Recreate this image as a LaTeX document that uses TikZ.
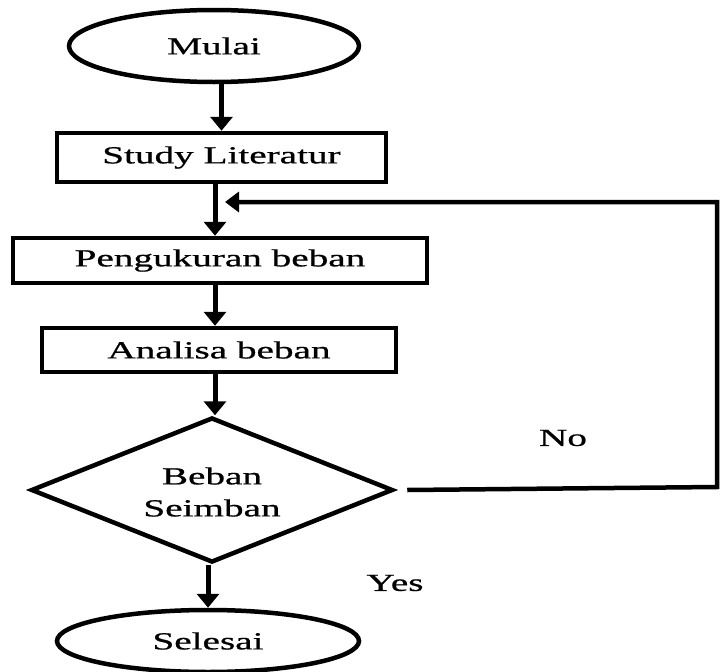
\documentclass[tikz,border=0pt]{standalone}
\usepackage{fontspec}
\setmainfont[FakeStretch=1.6,FakeBold=0.8]{Liberation Serif}
\usetikzlibrary{shapes.geometric,arrows.meta}
\begin{document}
\begin{tikzpicture}[x=1pt,y=-1pt,
  every node/.style={font=\fontsize{24.5}{32}\selectfont},
  termbox/.style={draw,ellipse,line width=4.5pt,inner sep=0pt},
  procbox/.style={draw,rectangle,line width=4.5pt,inner sep=0pt},
  decbox/.style={draw,diamond,line width=4.5pt,inner sep=0pt},
  arr/.style={line width=5pt,-{Triangle[width=22pt,length=14pt]}},
  fb/.style={line width=4.5pt,-{Triangle[width=20pt,length=14pt]}},
  lbl/.style={inner sep=0pt}]
\useasboundingbox (0,0) rectangle (721,672);
\node[termbox,minimum width=290pt,minimum height=72pt] (start) at (214,46) {Mulai};
\node[procbox,minimum width=329pt,minimum height=49pt] (s1) at (221.5,157.5) {Study Literatur};
\node[procbox,minimum width=414pt,minimum height=45pt] (s2) at (220,260.5) {Pengukuran beban};
\node[procbox,minimum width=354pt,minimum height=44pt] (s3) at (219,350) {Analisa beban};
\node[decbox,minimum width=362pt,minimum height=145pt] (dec) at (212,490) {};
\node[lbl,align=center] (dectext) at (212,492) {Beban\\Seimban};
\node[termbox,minimum width=302pt,minimum height=62pt] (end) at (208,641) {Selesai};
\node[lbl] (no) at (563,438) {No};
\node[lbl] (yes) at (395,583) {Yes};
\coordinate (trunk) at (215,0);
\coordinate (fbR) at (717,487);
\coordinate (fbT) at (717,202);
\coordinate (fbtip) at (225,202);
\draw[arr] (s1.north |- start.south) -- (s1.north);
\draw[arr] (s1.south -| trunk) -- (s2.north -| trunk);
\draw[arr] (s2.south -| trunk) -- (s3.north -| trunk);
\draw[arr] (s3.south -| trunk) -- (dec.north -| trunk);
\draw[arr] (dec.south -| end.north) -- (end.north);
\draw[fb,line join=miter] ([xshift=12pt]dec.east) -- (fbR) -- (fbT) -- (fbtip);
\end{tikzpicture}
\end{document}
